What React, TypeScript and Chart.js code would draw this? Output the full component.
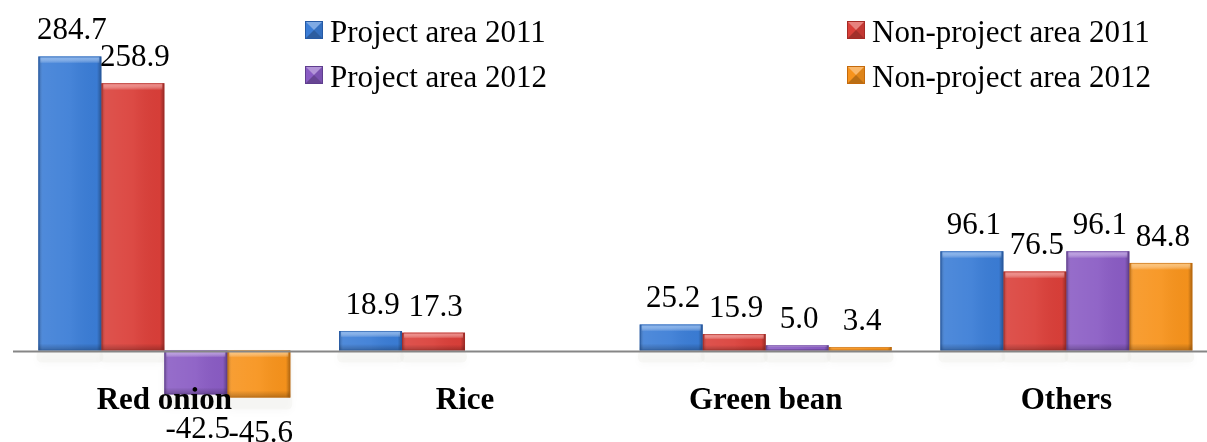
import React, { useEffect, useRef } from "react";
import { Chart, registerables } from "chart.js";

Chart.register(...registerables);

const categories = ["Red onion", "Rice", "Green bean", "Others"];
const seriesLabels = [
  "Project area 2011",
  "Non-project area 2011",
  "Project area 2012",
  "Non-project area 2012",
];
const projectArea2011 = [284.7, 18.9, 25.2, 96.1];
const nonProjectArea2011 = [258.9, 17.3, 15.9, 76.5];
const projectArea2012 = [-42.5, null, 5.0, 96.1];
const nonProjectArea2012 = [-45.6, null, 3.4, 84.8];

const seriesColors = ["#3B7DD6", "#DA3F39", "#8A5CC4", "#F7931C"];
const seriesDark = ["#265AA5", "#A52B26", "#5F3E8E", "#C46A0C"];
const seriesLight = ["#7DAEEC", "#F08480", "#B796E0", "#FBC070"];

const FONT = '"Liberation Serif", "Times New Roman", serif';

function roundRect(ctx: any, x: number, y: number, w: number, h: number, r: number) {
  ctx.beginPath();
  ctx.moveTo(x + r, y);
  ctx.lineTo(x + w - r, y);
  ctx.quadraticCurveTo(x + w, y, x + w, y + r);
  ctx.lineTo(x + w, y + h - r);
  ctx.quadraticCurveTo(x + w, y + h, x + w - r, y + h);
  ctx.lineTo(x + r, y + h);
  ctx.quadraticCurveTo(x, y + h, x, y + h - r);
  ctx.lineTo(x, y + r);
  ctx.quadraticCurveTo(x, y, x + r, y);
  ctx.closePath();
}

const decorPlugin = {
  id: "decor",
  beforeDatasetsDraw(chart: any) {
    const ctx = chart.ctx;
    const y0 = chart.scales.y.getPixelForValue(0);
    const metas = chart.getSortedVisibleDatasetMetas();
    ctx.save();
    ctx.fillStyle = "rgba(236,236,230,0.35)";
    ctx.shadowColor = "rgba(0,0,0,0.07)";
    ctx.shadowBlur = 8;
    ctx.shadowOffsetY = 3;
    metas.forEach((m: any) => {
      m.data.forEach((el: any, i: number) => {
        const v = chart.data.datasets[m.index].data[i];
        if (v === null || v === undefined) return;
        const p = el.getProps(["x", "y", "base", "width"], true);
        const bottom = Math.max(y0, p.y, p.base);
        roundRect(ctx, p.x - p.width / 2 - 2, y0, p.width + 4, bottom - y0 + 12, 6);
        ctx.fill();
      });
    });
    ctx.restore();
  },
  afterDatasetsDraw(chart: any) {
    const ctx = chart.ctx;
    const yScale = chart.scales.y;
    const xScale = chart.scales.x;
    const y0 = yScale.getPixelForValue(0);
    const metas = chart.getSortedVisibleDatasetMetas();

    metas.forEach((m: any) => {
      const di = m.index;
      m.data.forEach((el: any, i: number) => {
        const v = chart.data.datasets[di].data[i];
        if (v === null || v === undefined) return;
        const p = el.getProps(["x", "y", "base", "width"], true);
        const l = p.x - p.width / 2;
        const r = p.x + p.width / 2;
        const t = Math.min(p.y, p.base);
        const b = Math.max(p.y, p.base);
        const h = b - t;
        const w = r - l;
        ctx.save();
        const g = ctx.createLinearGradient(l, 0, r, 0);
        g.addColorStop(0, "rgba(0,0,0,0.28)");
        g.addColorStop(0.07, "rgba(255,255,255,0.10)");
        g.addColorStop(0.5, "rgba(255,255,255,0.06)");
        g.addColorStop(0.93, "rgba(0,0,0,0.02)");
        g.addColorStop(1, "rgba(0,0,0,0.32)");
        ctx.fillStyle = g;
        ctx.fillRect(l, t, w, h);
        const bh = Math.min(7, h / 3);
        const gt = ctx.createLinearGradient(0, t, 0, t + bh);
        gt.addColorStop(0, seriesLight[di]);
        gt.addColorStop(1, "rgba(255,255,255,0)");
        ctx.fillStyle = gt;
        ctx.fillRect(l + 2, t, w - 4, bh);
        const gb = ctx.createLinearGradient(0, b - bh, 0, b);
        gb.addColorStop(0, "rgba(0,0,0,0)");
        gb.addColorStop(1, "rgba(0,0,0,0.25)");
        ctx.fillStyle = gb;
        ctx.fillRect(l, b - bh, w, bh);
        ctx.strokeStyle = seriesDark[di];
        ctx.globalAlpha = 0.6;
        ctx.lineWidth = 1;
        ctx.strokeRect(l + 0.5, t + 0.5, w - 1, h - 1);
        ctx.restore();
      });
    });

    // axis line
    ctx.save();
    ctx.strokeStyle = "#868686";
    ctx.lineWidth = 2;
    ctx.beginPath();
    ctx.moveTo(13, y0 + 1);
    ctx.lineTo(chart.width, y0 + 1);
    ctx.stroke();
    ctx.restore();

    // data labels
    ctx.save();
    ctx.fillStyle = "#000";
    ctx.font = `31px ${FONT}`;
    ctx.textAlign = "center";
    ctx.textBaseline = "alphabetic";
    metas.forEach((m: any) => {
      const di = m.index;
      m.data.forEach((el: any, i: number) => {
        const v = chart.data.datasets[di].data[i];
        if (v === null || v === undefined) return;
        const p = el.getProps(["x", "y", "base"], true);
        const txt = Number(v).toFixed(1);
        const yy = v >= 0 ? p.y - 17 : p.y + 44;
        ctx.fillText(txt, p.x + 2, yy);
      });
    });
    ctx.restore();

    // category labels
    ctx.save();
    ctx.fillStyle = "#000";
    ctx.font = `bold 31px ${FONT}`;
    ctx.textAlign = "center";
    ctx.textBaseline = "alphabetic";
    categories.forEach((c, i) => {
      ctx.fillText(c, xScale.getPixelForValue(i), 409);
    });
    ctx.restore();

    // legend
    const legendPos = [
      { mx: 305, my: 21, tx: 330, ty: 42 },
      { mx: 847, my: 21, tx: 872, ty: 42 },
      { mx: 305, my: 66, tx: 330, ty: 87 },
      { mx: 847, my: 66, tx: 872, ty: 87 },
    ];
    ctx.save();
    seriesLabels.forEach((lab, i) => {
      const p = legendPos[i];
      const s = 18;
      const cx = p.mx + s / 2;
      const cy = p.my + s / 2;
      ctx.fillStyle = seriesColors[i];
      ctx.fillRect(p.mx, p.my, s, s);
      ctx.fillStyle = "rgba(255,255,255,0.35)";
      ctx.beginPath();
      ctx.moveTo(p.mx, p.my);
      ctx.lineTo(p.mx + s, p.my);
      ctx.lineTo(cx, cy);
      ctx.closePath();
      ctx.fill();
      ctx.fillStyle = "rgba(0,0,0,0.25)";
      ctx.beginPath();
      ctx.moveTo(p.mx, p.my + s);
      ctx.lineTo(p.mx + s, p.my + s);
      ctx.lineTo(cx, cy);
      ctx.closePath();
      ctx.fill();
      ctx.fillStyle = "rgba(0,0,0,0.1)";
      ctx.beginPath();
      ctx.moveTo(p.mx + s, p.my);
      ctx.lineTo(p.mx + s, p.my + s);
      ctx.lineTo(cx, cy);
      ctx.closePath();
      ctx.fill();
      ctx.strokeStyle = seriesDark[i];
      ctx.lineWidth = 1;
      ctx.strokeRect(p.mx + 0.5, p.my + 0.5, s - 1, s - 1);
      ctx.fillStyle = "#000";
      ctx.font = `31px ${FONT}`;
      ctx.textAlign = "left";
      ctx.textBaseline = "alphabetic";
      ctx.fillText(lab, p.tx, p.ty);
    });
    ctx.restore();
  },
};

export default function App() {
  const canvasRef = useRef<HTMLCanvasElement | null>(null);

  useEffect(() => {
    const canvas = canvasRef.current;
    if (!canvas) return;
    const seriesData = [projectArea2011, nonProjectArea2011, projectArea2012, nonProjectArea2012];
    const chart = new Chart(canvas, {
      type: "bar",
      data: {
        labels: categories,
        datasets: seriesData.map((d, i) => ({
          label: seriesLabels[i],
          data: d as any,
          backgroundColor: seriesColors[i],
          borderWidth: 0,
        })),
      },
      options: {
        animation: false,
        responsive: false,
        maintainAspectRatio: false,
        devicePixelRatio: 1,
        datasets: {
          bar: {
            categoryPercentage: 0.838,
            barPercentage: 1,
          },
        },
        layout: {
          padding: { left: 14, right: 13.3, top: 30.36, bottom: 19.21 },
        },
        scales: {
          x: { display: false, offset: true, grid: { display: false } },
          y: { display: false, min: -70, max: 310, grid: { display: false } },
        },
        plugins: {
          legend: { display: false },
          tooltip: { enabled: false },
        },
      },
      plugins: [decorPlugin],
    });
    return () => chart.destroy();
  }, []);

  return (
    <div
      style={{
        position: "fixed",
        left: 0,
        top: 0,
        width: 1207,
        height: 442,
        overflow: "hidden",
        background: "#fff",
      }}
    >
      <canvas
        ref={canvasRef}
        width={1230}
        height={442}
        style={{ display: "block", width: 1230, height: 442 }}
      />
    </div>
  );
}
